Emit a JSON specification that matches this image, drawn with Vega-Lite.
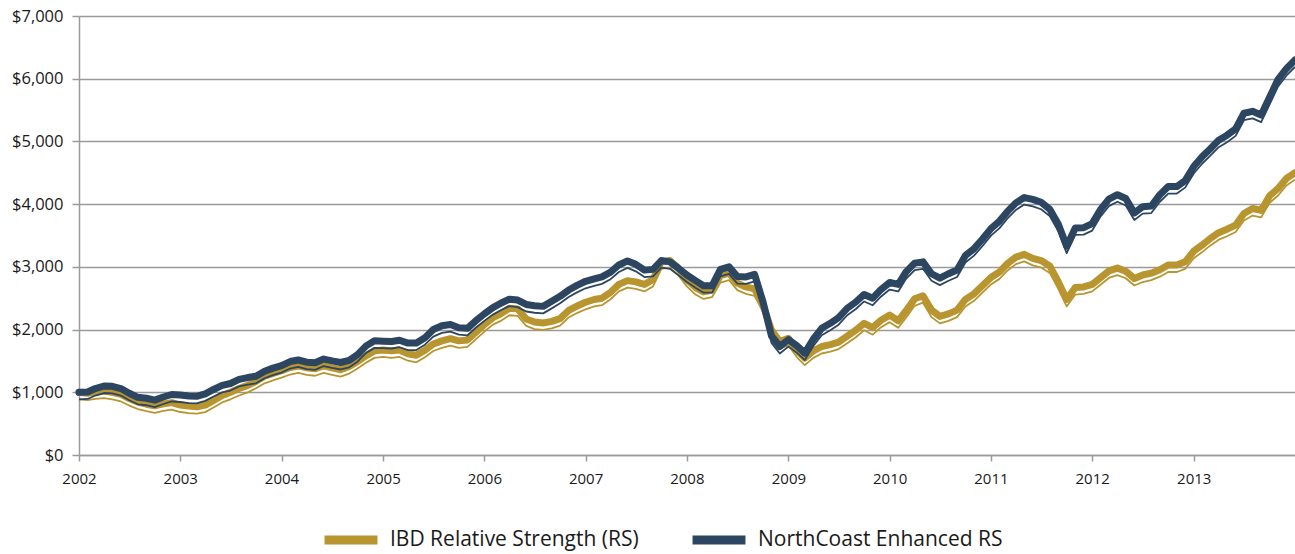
{
"$schema": "https://vega.github.io/schema/vega-lite/v6.json",
"width": 1216, "height": 439,
"autosize": {"type": "none"},
"padding": {"left": 79, "top": 16, "right": 0, "bottom": 99},
"background": "white",
"config": {"view": {"stroke": null}, "font": "Open Sans"},
"data": {"values": [
{"d":"2002-01-01","IBD Relative Strength (RS)":1000,"NorthCoast Enhanced RS":1000},
{"d":"2002-02-01","IBD Relative Strength (RS)":985,"NorthCoast Enhanced RS":1005},
{"d":"2002-03-01","IBD Relative Strength (RS)":1005,"NorthCoast Enhanced RS":1060},
{"d":"2002-04-01","IBD Relative Strength (RS)":1020,"NorthCoast Enhanced RS":1100},
{"d":"2002-05-01","IBD Relative Strength (RS)":1000,"NorthCoast Enhanced RS":1095},
{"d":"2002-06-01","IBD Relative Strength (RS)":965,"NorthCoast Enhanced RS":1060},
{"d":"2002-07-01","IBD Relative Strength (RS)":900,"NorthCoast Enhanced RS":985},
{"d":"2002-08-01","IBD Relative Strength (RS)":845,"NorthCoast Enhanced RS":920},
{"d":"2002-09-01","IBD Relative Strength (RS)":810,"NorthCoast Enhanced RS":905},
{"d":"2002-10-01","IBD Relative Strength (RS)":785,"NorthCoast Enhanced RS":875},
{"d":"2002-11-01","IBD Relative Strength (RS)":815,"NorthCoast Enhanced RS":925},
{"d":"2002-12-01","IBD Relative Strength (RS)":835,"NorthCoast Enhanced RS":965},
{"d":"2003-01-01","IBD Relative Strength (RS)":797,"NorthCoast Enhanced RS":957},
{"d":"2003-02-01","IBD Relative Strength (RS)":780,"NorthCoast Enhanced RS":940},
{"d":"2003-03-01","IBD Relative Strength (RS)":770,"NorthCoast Enhanced RS":935},
{"d":"2003-04-01","IBD Relative Strength (RS)":795,"NorthCoast Enhanced RS":975},
{"d":"2003-05-01","IBD Relative Strength (RS)":870,"NorthCoast Enhanced RS":1045},
{"d":"2003-06-01","IBD Relative Strength (RS)":950,"NorthCoast Enhanced RS":1110},
{"d":"2003-07-01","IBD Relative Strength (RS)":1000,"NorthCoast Enhanced RS":1140},
{"d":"2003-08-01","IBD Relative Strength (RS)":1060,"NorthCoast Enhanced RS":1205},
{"d":"2003-09-01","IBD Relative Strength (RS)":1110,"NorthCoast Enhanced RS":1235},
{"d":"2003-10-01","IBD Relative Strength (RS)":1175,"NorthCoast Enhanced RS":1255},
{"d":"2003-11-01","IBD Relative Strength (RS)":1255,"NorthCoast Enhanced RS":1335},
{"d":"2003-12-01","IBD Relative Strength (RS)":1300,"NorthCoast Enhanced RS":1385},
{"d":"2004-01-01","IBD Relative Strength (RS)":1345,"NorthCoast Enhanced RS":1425},
{"d":"2004-02-01","IBD Relative Strength (RS)":1395,"NorthCoast Enhanced RS":1490},
{"d":"2004-03-01","IBD Relative Strength (RS)":1420,"NorthCoast Enhanced RS":1515},
{"d":"2004-04-01","IBD Relative Strength (RS)":1390,"NorthCoast Enhanced RS":1480},
{"d":"2004-05-01","IBD Relative Strength (RS)":1375,"NorthCoast Enhanced RS":1470},
{"d":"2004-06-01","IBD Relative Strength (RS)":1420,"NorthCoast Enhanced RS":1530},
{"d":"2004-07-01","IBD Relative Strength (RS)":1390,"NorthCoast Enhanced RS":1500},
{"d":"2004-08-01","IBD Relative Strength (RS)":1360,"NorthCoast Enhanced RS":1475},
{"d":"2004-09-01","IBD Relative Strength (RS)":1410,"NorthCoast Enhanced RS":1510},
{"d":"2004-10-01","IBD Relative Strength (RS)":1490,"NorthCoast Enhanced RS":1600},
{"d":"2004-11-01","IBD Relative Strength (RS)":1585,"NorthCoast Enhanced RS":1740},
{"d":"2004-12-01","IBD Relative Strength (RS)":1660,"NorthCoast Enhanced RS":1820},
{"d":"2005-01-01","IBD Relative Strength (RS)":1675,"NorthCoast Enhanced RS":1815},
{"d":"2005-02-01","IBD Relative Strength (RS)":1660,"NorthCoast Enhanced RS":1810},
{"d":"2005-03-01","IBD Relative Strength (RS)":1675,"NorthCoast Enhanced RS":1830},
{"d":"2005-04-01","IBD Relative Strength (RS)":1615,"NorthCoast Enhanced RS":1785},
{"d":"2005-05-01","IBD Relative Strength (RS)":1590,"NorthCoast Enhanced RS":1785},
{"d":"2005-06-01","IBD Relative Strength (RS)":1670,"NorthCoast Enhanced RS":1870},
{"d":"2005-07-01","IBD Relative Strength (RS)":1770,"NorthCoast Enhanced RS":2000},
{"d":"2005-08-01","IBD Relative Strength (RS)":1820,"NorthCoast Enhanced RS":2060},
{"d":"2005-09-01","IBD Relative Strength (RS)":1855,"NorthCoast Enhanced RS":2080},
{"d":"2005-10-01","IBD Relative Strength (RS)":1820,"NorthCoast Enhanced RS":2030},
{"d":"2005-11-01","IBD Relative Strength (RS)":1835,"NorthCoast Enhanced RS":2020},
{"d":"2005-12-01","IBD Relative Strength (RS)":1955,"NorthCoast Enhanced RS":2140},
{"d":"2006-01-01","IBD Relative Strength (RS)":2080,"NorthCoast Enhanced RS":2250},
{"d":"2006-02-01","IBD Relative Strength (RS)":2190,"NorthCoast Enhanced RS":2350},
{"d":"2006-03-01","IBD Relative Strength (RS)":2250,"NorthCoast Enhanced RS":2420},
{"d":"2006-04-01","IBD Relative Strength (RS)":2340,"NorthCoast Enhanced RS":2485},
{"d":"2006-05-01","IBD Relative Strength (RS)":2330,"NorthCoast Enhanced RS":2470},
{"d":"2006-06-01","IBD Relative Strength (RS)":2170,"NorthCoast Enhanced RS":2400},
{"d":"2006-07-01","IBD Relative Strength (RS)":2120,"NorthCoast Enhanced RS":2380},
{"d":"2006-08-01","IBD Relative Strength (RS)":2105,"NorthCoast Enhanced RS":2370},
{"d":"2006-09-01","IBD Relative Strength (RS)":2130,"NorthCoast Enhanced RS":2450},
{"d":"2006-10-01","IBD Relative Strength (RS)":2175,"NorthCoast Enhanced RS":2530},
{"d":"2006-11-01","IBD Relative Strength (RS)":2305,"NorthCoast Enhanced RS":2630},
{"d":"2006-12-01","IBD Relative Strength (RS)":2375,"NorthCoast Enhanced RS":2705},
{"d":"2007-01-01","IBD Relative Strength (RS)":2435,"NorthCoast Enhanced RS":2770},
{"d":"2007-02-01","IBD Relative Strength (RS)":2480,"NorthCoast Enhanced RS":2808},
{"d":"2007-03-01","IBD Relative Strength (RS)":2500,"NorthCoast Enhanced RS":2840},
{"d":"2007-04-01","IBD Relative Strength (RS)":2595,"NorthCoast Enhanced RS":2915},
{"d":"2007-05-01","IBD Relative Strength (RS)":2720,"NorthCoast Enhanced RS":3030},
{"d":"2007-06-01","IBD Relative Strength (RS)":2780,"NorthCoast Enhanced RS":3095},
{"d":"2007-07-01","IBD Relative Strength (RS)":2760,"NorthCoast Enhanced RS":3040},
{"d":"2007-08-01","IBD Relative Strength (RS)":2720,"NorthCoast Enhanced RS":2948},
{"d":"2007-09-01","IBD Relative Strength (RS)":2800,"NorthCoast Enhanced RS":2960},
{"d":"2007-10-01","IBD Relative Strength (RS)":3080,"NorthCoast Enhanced RS":3100},
{"d":"2007-11-01","IBD Relative Strength (RS)":3100,"NorthCoast Enhanced RS":3080},
{"d":"2007-12-01","IBD Relative Strength (RS)":2980,"NorthCoast Enhanced RS":2980},
{"d":"2008-01-01","IBD Relative Strength (RS)":2800,"NorthCoast Enhanced RS":2870},
{"d":"2008-02-01","IBD Relative Strength (RS)":2670,"NorthCoast Enhanced RS":2780},
{"d":"2008-03-01","IBD Relative Strength (RS)":2600,"NorthCoast Enhanced RS":2700},
{"d":"2008-04-01","IBD Relative Strength (RS)":2630,"NorthCoast Enhanced RS":2700},
{"d":"2008-05-01","IBD Relative Strength (RS)":2860,"NorthCoast Enhanced RS":2960},
{"d":"2008-06-01","IBD Relative Strength (RS)":2900,"NorthCoast Enhanced RS":3000},
{"d":"2008-07-01","IBD Relative Strength (RS)":2740,"NorthCoast Enhanced RS":2845},
{"d":"2008-08-01","IBD Relative Strength (RS)":2680,"NorthCoast Enhanced RS":2840},
{"d":"2008-09-01","IBD Relative Strength (RS)":2650,"NorthCoast Enhanced RS":2880},
{"d":"2008-10-01","IBD Relative Strength (RS)":2400,"NorthCoast Enhanced RS":2450},
{"d":"2008-11-01","IBD Relative Strength (RS)":1990,"NorthCoast Enhanced RS":1900},
{"d":"2008-12-01","IBD Relative Strength (RS)":1810,"NorthCoast Enhanced RS":1730},
{"d":"2009-01-01","IBD Relative Strength (RS)":1860,"NorthCoast Enhanced RS":1840},
{"d":"2009-02-01","IBD Relative Strength (RS)":1670,"NorthCoast Enhanced RS":1740},
{"d":"2009-03-01","IBD Relative Strength (RS)":1545,"NorthCoast Enhanced RS":1625},
{"d":"2009-04-01","IBD Relative Strength (RS)":1660,"NorthCoast Enhanced RS":1850},
{"d":"2009-05-01","IBD Relative Strength (RS)":1730,"NorthCoast Enhanced RS":2020},
{"d":"2009-06-01","IBD Relative Strength (RS)":1760,"NorthCoast Enhanced RS":2100},
{"d":"2009-07-01","IBD Relative Strength (RS)":1800,"NorthCoast Enhanced RS":2190},
{"d":"2009-08-01","IBD Relative Strength (RS)":1895,"NorthCoast Enhanced RS":2340},
{"d":"2009-09-01","IBD Relative Strength (RS)":1990,"NorthCoast Enhanced RS":2440},
{"d":"2009-10-01","IBD Relative Strength (RS)":2100,"NorthCoast Enhanced RS":2560},
{"d":"2009-11-01","IBD Relative Strength (RS)":2030,"NorthCoast Enhanced RS":2500},
{"d":"2009-12-01","IBD Relative Strength (RS)":2150,"NorthCoast Enhanced RS":2640},
{"d":"2010-01-01","IBD Relative Strength (RS)":2230,"NorthCoast Enhanced RS":2750},
{"d":"2010-02-01","IBD Relative Strength (RS)":2140,"NorthCoast Enhanced RS":2720},
{"d":"2010-03-01","IBD Relative Strength (RS)":2300,"NorthCoast Enhanced RS":2920},
{"d":"2010-04-01","IBD Relative Strength (RS)":2490,"NorthCoast Enhanced RS":3060},
{"d":"2010-05-01","IBD Relative Strength (RS)":2540,"NorthCoast Enhanced RS":3080},
{"d":"2010-06-01","IBD Relative Strength (RS)":2310,"NorthCoast Enhanced RS":2890},
{"d":"2010-07-01","IBD Relative Strength (RS)":2210,"NorthCoast Enhanced RS":2820},
{"d":"2010-08-01","IBD Relative Strength (RS)":2250,"NorthCoast Enhanced RS":2890},
{"d":"2010-09-01","IBD Relative Strength (RS)":2310,"NorthCoast Enhanced RS":2950},
{"d":"2010-10-01","IBD Relative Strength (RS)":2480,"NorthCoast Enhanced RS":3180},
{"d":"2010-11-01","IBD Relative Strength (RS)":2570,"NorthCoast Enhanced RS":3290},
{"d":"2010-12-01","IBD Relative Strength (RS)":2700,"NorthCoast Enhanced RS":3440},
{"d":"2011-01-01","IBD Relative Strength (RS)":2830,"NorthCoast Enhanced RS":3610},
{"d":"2011-02-01","IBD Relative Strength (RS)":2920,"NorthCoast Enhanced RS":3730},
{"d":"2011-03-01","IBD Relative Strength (RS)":3050,"NorthCoast Enhanced RS":3880},
{"d":"2011-04-01","IBD Relative Strength (RS)":3155,"NorthCoast Enhanced RS":4020},
{"d":"2011-05-01","IBD Relative Strength (RS)":3200,"NorthCoast Enhanced RS":4105},
{"d":"2011-06-01","IBD Relative Strength (RS)":3135,"NorthCoast Enhanced RS":4075},
{"d":"2011-07-01","IBD Relative Strength (RS)":3100,"NorthCoast Enhanced RS":4030},
{"d":"2011-08-01","IBD Relative Strength (RS)":3015,"NorthCoast Enhanced RS":3920},
{"d":"2011-09-01","IBD Relative Strength (RS)":2760,"NorthCoast Enhanced RS":3680},
{"d":"2011-10-01","IBD Relative Strength (RS)":2480,"NorthCoast Enhanced RS":3330},
{"d":"2011-11-01","IBD Relative Strength (RS)":2670,"NorthCoast Enhanced RS":3620},
{"d":"2011-12-01","IBD Relative Strength (RS)":2680,"NorthCoast Enhanced RS":3625},
{"d":"2012-01-01","IBD Relative Strength (RS)":2720,"NorthCoast Enhanced RS":3690},
{"d":"2012-02-01","IBD Relative Strength (RS)":2830,"NorthCoast Enhanced RS":3920},
{"d":"2012-03-01","IBD Relative Strength (RS)":2935,"NorthCoast Enhanced RS":4080},
{"d":"2012-04-01","IBD Relative Strength (RS)":2980,"NorthCoast Enhanced RS":4150},
{"d":"2012-05-01","IBD Relative Strength (RS)":2930,"NorthCoast Enhanced RS":4090},
{"d":"2012-06-01","IBD Relative Strength (RS)":2815,"NorthCoast Enhanced RS":3860},
{"d":"2012-07-01","IBD Relative Strength (RS)":2870,"NorthCoast Enhanced RS":3960},
{"d":"2012-08-01","IBD Relative Strength (RS)":2900,"NorthCoast Enhanced RS":3970},
{"d":"2012-09-01","IBD Relative Strength (RS)":2955,"NorthCoast Enhanced RS":4150},
{"d":"2012-10-01","IBD Relative Strength (RS)":3030,"NorthCoast Enhanced RS":4280},
{"d":"2012-11-01","IBD Relative Strength (RS)":3030,"NorthCoast Enhanced RS":4280},
{"d":"2012-12-01","IBD Relative Strength (RS)":3080,"NorthCoast Enhanced RS":4375},
{"d":"2013-01-01","IBD Relative Strength (RS)":3250,"NorthCoast Enhanced RS":4600},
{"d":"2013-02-01","IBD Relative Strength (RS)":3350,"NorthCoast Enhanced RS":4760},
{"d":"2013-03-01","IBD Relative Strength (RS)":3450,"NorthCoast Enhanced RS":4880},
{"d":"2013-04-01","IBD Relative Strength (RS)":3545,"NorthCoast Enhanced RS":5020},
{"d":"2013-05-01","IBD Relative Strength (RS)":3600,"NorthCoast Enhanced RS":5100},
{"d":"2013-06-01","IBD Relative Strength (RS)":3667,"NorthCoast Enhanced RS":5200},
{"d":"2013-07-01","IBD Relative Strength (RS)":3850,"NorthCoast Enhanced RS":5450},
{"d":"2013-08-01","IBD Relative Strength (RS)":3930,"NorthCoast Enhanced RS":5480},
{"d":"2013-09-01","IBD Relative Strength (RS)":3900,"NorthCoast Enhanced RS":5420},
{"d":"2013-10-01","IBD Relative Strength (RS)":4130,"NorthCoast Enhanced RS":5700},
{"d":"2013-11-01","IBD Relative Strength (RS)":4250,"NorthCoast Enhanced RS":5990},
{"d":"2013-12-01","IBD Relative Strength (RS)":4410,"NorthCoast Enhanced RS":6160},
{"d":"2014-01-01","IBD Relative Strength (RS)":4500,"NorthCoast Enhanced RS":6300}
]},
"transform": [{"fold": ["IBD Relative Strength (RS)", "NorthCoast Enhanced RS"], "as": ["series", "value"]}],
"encoding": {
  "x": {"field": "d", "type": "temporal",
    "scale": {"type": "utc", "domain": [{"year": 2002, "month": 1, "date": 1, "utc": true}, {"year": 2014, "month": 1, "date": 1, "utc": true}]},
    "axis": {"title": null, "format": "%Y", "grid": false,
      "values": [{"year": 2002, "month": 1, "date": 1, "utc": true}, {"year": 2003, "month": 1, "date": 1, "utc": true}, {"year": 2004, "month": 1, "date": 1, "utc": true}, {"year": 2005, "month": 1, "date": 1, "utc": true}, {"year": 2006, "month": 1, "date": 1, "utc": true}, {"year": 2007, "month": 1, "date": 1, "utc": true}, {"year": 2008, "month": 1, "date": 1, "utc": true}, {"year": 2009, "month": 1, "date": 1, "utc": true}, {"year": 2010, "month": 1, "date": 1, "utc": true}, {"year": 2011, "month": 1, "date": 1, "utc": true}, {"year": 2012, "month": 1, "date": 1, "utc": true}, {"year": 2013, "month": 1, "date": 1, "utc": true}],
      "labelFont": "Open Sans", "labelFontSize": 15, "labelColor": "#1a1a1a", "labelPadding": 10, "labelFlush": false,
      "domainColor": "#9a9a9a", "domainWidth": 1.5, "tickColor": "#9a9a9a", "tickWidth": 1.5, "tickSize": 6}},
  "y": {"field": "value", "type": "quantitative",
    "scale": {"domain": [0, 7000], "nice": false},
    "axis": {"title": null, "values": [0, 1000, 2000, 3000, 4000, 5000, 6000, 7000], "format": "$,.0f",
      "labelFont": "Open Sans", "labelFontSize": 16.5, "labelColor": "#1a1a1a", "labelPadding": 9,
      "grid": true, "gridColor": "#9a9a9a", "gridWidth": 1.5,
      "domainColor": "#9a9a9a", "domainWidth": 1.5, "tickColor": "#9a9a9a", "tickWidth": 1.5, "tickSize": 7}},
  "color": {"field": "series", "type": "nominal",
    "scale": {"domain": ["IBD Relative Strength (RS)", "NorthCoast Enhanced RS"], "range": ["#B8952F", "#2C4560"]},
    "legend": {"title": null, "orient": "none", "legendX": 241, "legendY": 493, "direction": "horizontal",
      "symbolType": "stroke", "symbolSize": 2800, "symbolStrokeWidth": 9, "symbolOpacity": 1,
      "labelFont": "Open Sans", "labelFontSize": 21, "labelColor": "#1a1a1a", "labelOffset": 8, "columnPadding": 35, "labelLimit": 400}}
},
"layer": [
  {"transform": [{"filter": "datum.series == 'IBD Relative Strength (RS)'"}],
   "mark": {"type": "line", "strokeWidth": 1.8, "yOffset": 7, "strokeJoin": "round"}},
  {"transform": [{"filter": "datum.series == 'IBD Relative Strength (RS)'"}],
   "mark": {"type": "line", "strokeWidth": 7, "strokeJoin": "round", "strokeCap": "round"}},
  {"transform": [{"filter": "datum.series == 'NorthCoast Enhanced RS'"}],
   "mark": {"type": "line", "strokeWidth": 1.8, "yOffset": 7, "strokeJoin": "round"}},
  {"transform": [{"filter": "datum.series == 'NorthCoast Enhanced RS'"}],
   "mark": {"type": "line", "strokeWidth": 7, "strokeJoin": "round", "strokeCap": "round"}}
]
}
